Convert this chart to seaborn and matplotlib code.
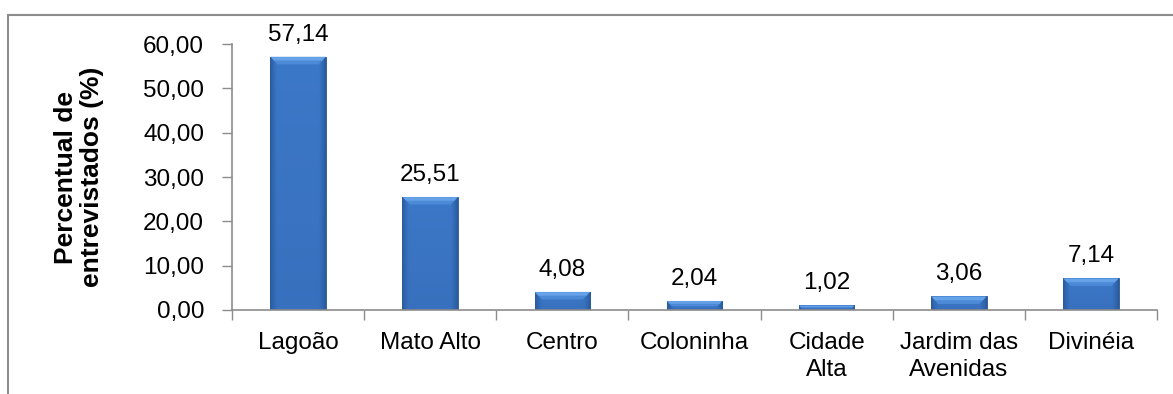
import numpy as np
import pandas as pd
import matplotlib
matplotlib.use("Agg")
import matplotlib.pyplot as plt
from matplotlib.lines import Line2D
from matplotlib.ticker import FixedLocator, FuncFormatter
import seaborn as sns

bairros = ["Lagoão", "Mato Alto", "Centro", "Coloninha", "Cidade\nAlta",
           "Jardim das\nAvenidas", "Divinéia"]
percentual = [57.14, 25.51, 4.08, 2.04, 1.02, 3.06, 7.14]
y_ticks = [0, 10, 20, 30, 40, 50, 60]

sns.set_theme(style="white")
plt.rcParams["font.family"] = ["Liberation Sans", "DejaVu Sans"]

FS = 17.5

df = pd.DataFrame({"bairro": bairros, "pct": percentual})

fig = plt.figure(figsize=(11.73, 3.94), dpi=100)
ax = fig.add_axes([0.1978, 0.2132, 0.7886, 0.6748])

sns.barplot(data=df, x="bairro", y="pct", color="#3A74C4", width=0.42,
            saturation=1, ax=ax, edgecolor="#2C5690", linewidth=0.6)

# shaded fill inside each bar: darker strips at the sides, flat middle
n = 64
gx = np.linspace(0, 1, n)
edge = np.clip(np.minimum(gx, 1 - gx) / 0.12, 0, 1)
base = np.array(matplotlib.colors.to_rgb("#2A5A9E"))
body = np.array(matplotlib.colors.to_rgb("#3C78C8"))
img = np.ones((n, n, 4))
gy = np.linspace(0, 1, n)[:, None]  # 0 = top row
mix = np.clip(edge[None, :] ** 0.8 * (1 - 0.25 * gy), 0, 1)
img[..., :3] = base + (body - base) * mix[..., None]

for p in ax.patches:
    x0, y0 = p.get_x(), p.get_y()
    w, h = p.get_width(), p.get_height()
    im = ax.imshow(img, extent=[x0, x0 + w, y0, y0 + h], aspect="auto",
                   zorder=p.get_zorder() + 0.1, interpolation="bicubic")
    im.set_clip_path(p)
    # lighter bevel along the top edge, two bands for a soft gradient
    bevel = min(h * 0.6, 1.7)
    inset = 0.055 * bevel / 1.7
    ax.fill([x0, x0 + w, x0 + w - inset, x0 + inset],
            [y0 + h, y0 + h, y0 + h - bevel, y0 + h - bevel],
            color="#4C8AD8", zorder=p.get_zorder() + 0.2, lw=0)
    ax.fill([x0 + 0.004, x0 + w - 0.004, x0 + w - inset * 0.5, x0 + inset * 0.5],
            [y0 + h - 0.05, y0 + h - 0.05, y0 + h - bevel * 0.5, y0 + h - bevel * 0.5],
            color="#66A2E8", zorder=p.get_zorder() + 0.3, lw=0)

labels = [f"{v:.2f}".replace(".", ",") for v in percentual]
ax.bar_label(ax.containers[0], labels=labels, padding=8, fontsize=FS,
             color="black")

ax.set_ylim(0, 60)
ax.set_xlim(-0.5, len(bairros) - 0.5)
ax.yaxis.set_major_locator(FixedLocator(y_ticks))
ax.yaxis.set_major_formatter(FuncFormatter(lambda v, _: f"{v:.2f}".replace(".", ",")))
ax.set_xticks(range(len(bairros)))
ax.set_xticklabels(bairros, fontsize=FS, linespacing=1.3)
ax.xaxis.set_minor_locator(FixedLocator(np.arange(-0.5, len(bairros), 1.0)))
ax.tick_params(axis="x", which="major", length=0, pad=16, colors="black")
ax.tick_params(axis="x", which="minor", length=7, width=1, color="#8C8C8C",
               direction="out", bottom=True)
ax.tick_params(axis="y", which="major", length=7, width=1, color="#8C8C8C",
               direction="out", left=True, labelsize=FS, pad=13,
               labelcolor="black")
for s in ["top", "right"]:
    ax.spines[s].set_visible(False)
for s in ["left", "bottom"]:
    ax.spines[s].set_color("#8C8C8C")
    ax.spines[s].set_linewidth(1.2)

ax.set_xlabel("")
ax.set_ylabel("Percentual de\nentrevistados (%)", fontsize=19,
              fontweight="bold", linespacing=1.1, labelpad=28, color="black")

# outer chart frame
fig.add_artist(Line2D([0.007, 1.0], [0.962, 0.962], color="#8C8C8C", lw=1.5,
                      transform=fig.transFigure))
fig.add_artist(Line2D([0.007, 0.007], [0.0, 0.962], color="#8C8C8C", lw=1.5,
                      transform=fig.transFigure))

fig.savefig("out.png", dpi=100)
